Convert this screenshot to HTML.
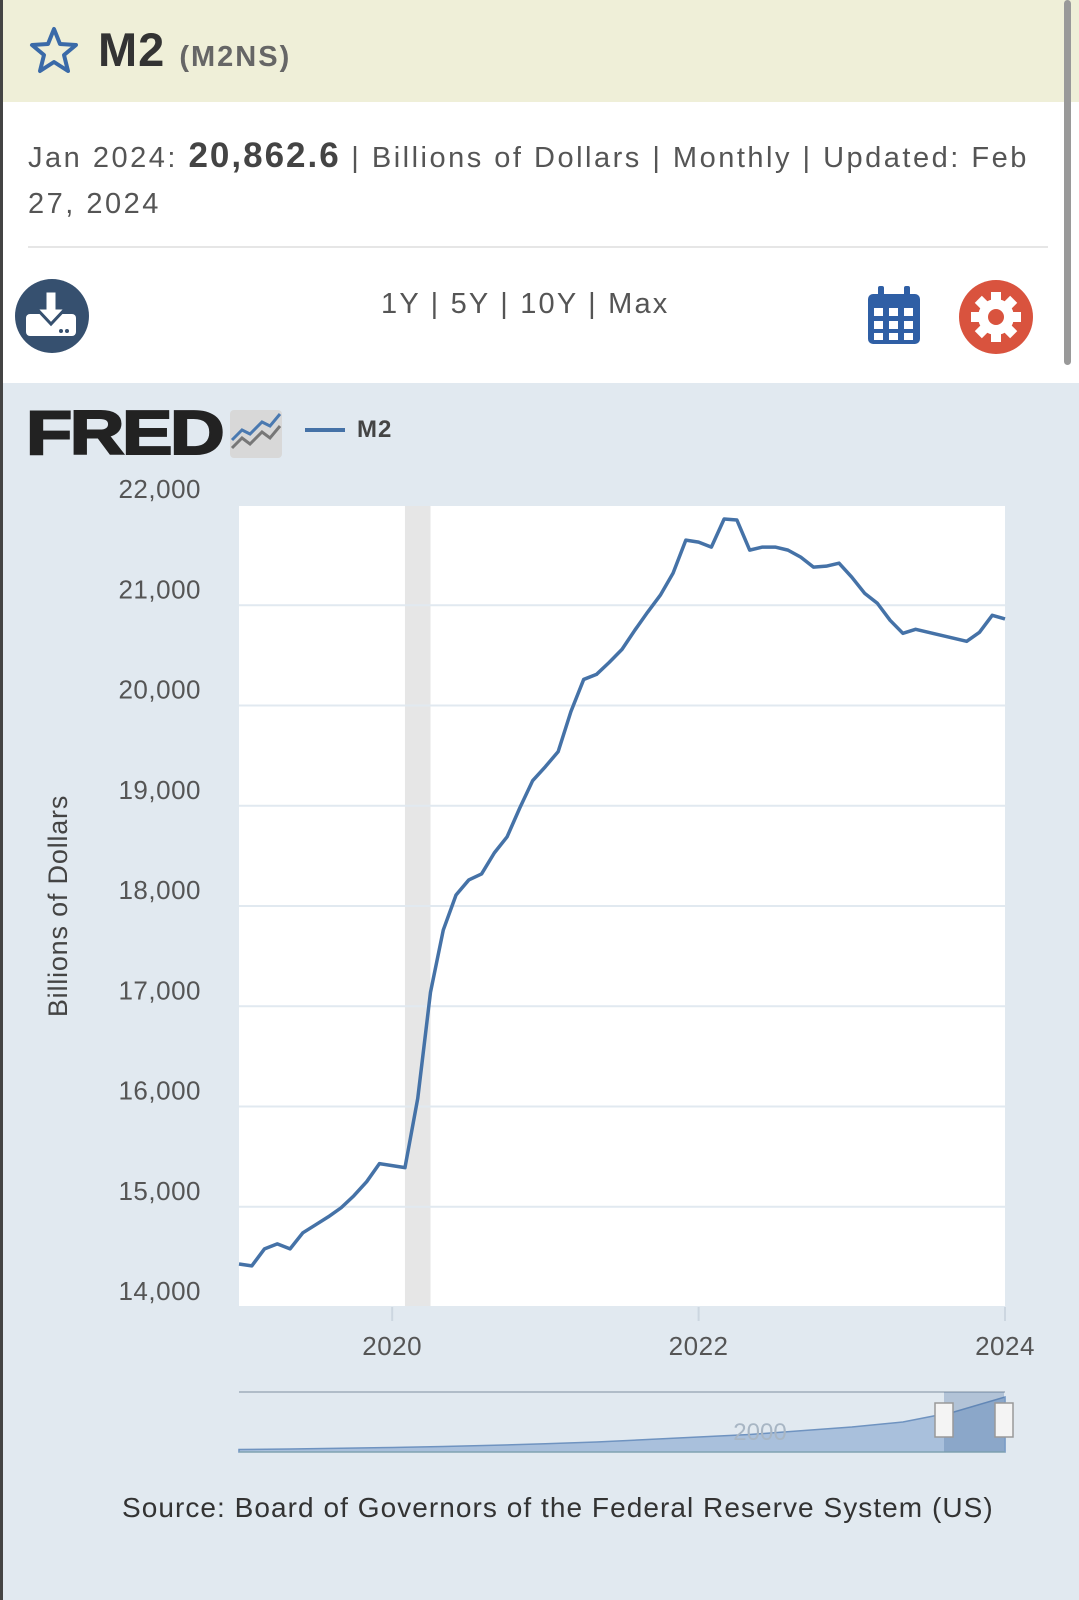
<!DOCTYPE html>
<html><head><meta charset="utf-8"><style>
html,body{margin:0;padding:0;width:1079px;height:1600px;overflow:hidden;background:#fff;font-family:"Liberation Sans",sans-serif}
#hdr{position:absolute;left:0;top:0;width:1079px;height:102px;background:#efefd8}
#lb{position:absolute;left:0;top:0;width:3px;height:1600px;background:#444}
#sb{position:absolute;left:1064px;top:0;width:7px;height:365px;background:#999;border-radius:4px}
.t{position:absolute;white-space:nowrap}
#chartbg{position:absolute;left:0;top:383px;width:1079px;height:1217px;background:#e1e9f0}
</style></head><body>
<div id="hdr"></div>
<div id="chartbg"></div>
<svg class="t" style="left:28px;top:26px" width="52" height="48" viewBox="0 0 52 48"><polygon points="26,3 32,18 48,19 36,29 40,45 26,36 12,45 16,29 4,19 20,18" fill="none" stroke="#3a6aa8" stroke-width="4" stroke-linejoin="round"/></svg>
<div class="t" style="left:98px;top:22px;font-size:47px;font-weight:bold;color:#333;letter-spacing:1px">M2 <span style="font-size:29px;color:#666;letter-spacing:2px">(M2NS)</span></div>
<div class="t" style="left:28px;top:133px;font-size:29px;color:#555;letter-spacing:2.5px;line-height:46px">Jan 2024: <b style="font-size:35px;color:#444;letter-spacing:2px">20,862.6</b> | Billions of Dollars | Monthly | Updated: Feb<br>27, 2024</div>
<div class="t" style="left:28px;top:246px;width:1020px;height:2px;background:#e6e6e6"></div>
<svg class="t" style="left:14px;top:278px" width="76" height="76"><circle cx="38" cy="38" r="37" fill="#36506f"/><rect x="12" y="36" width="50" height="22" rx="4" fill="#fff"/><path d="M31 13h12v17h9l-15 16-15-16h9z" fill="#fff" stroke="#36506f" stroke-width="3"/><circle cx="47" cy="53" r="2" fill="#36506f"/><circle cx="53" cy="53" r="2" fill="#36506f"/></svg>
<div class="t" style="left:381px;top:288px;font-size:29px;color:#555;letter-spacing:2.2px">1Y | 5Y | 10Y | Max</div>
<svg class="t" style="left:866px;top:286px" width="56" height="60"><rect x="2" y="8" width="52" height="50" rx="5" fill="#2f5fa5"/><rect x="12" y="0" width="6" height="14" rx="2" fill="#2f5fa5"/><rect x="38" y="0" width="6" height="14" rx="2" fill="#2f5fa5"/><g fill="#fff"><rect x="8" y="22" width="9" height="8"/><rect x="23" y="22" width="9" height="8"/><rect x="38" y="22" width="9" height="8"/><rect x="8" y="35" width="9" height="8"/><rect x="23" y="35" width="9" height="8"/><rect x="38" y="35" width="9" height="8"/><rect x="8" y="47" width="9" height="7"/><rect x="23" y="47" width="9" height="7"/><rect x="38" y="47" width="9" height="7"/></g></svg>
<svg class="t" style="left:958px;top:279px" width="76" height="76"><circle cx="38" cy="38" r="37" fill="#d9533e"/><g fill="#fff" transform="translate(38 38)"><circle r="18"/><rect x="-5" y="-25" width="10" height="50"/><rect x="-5" y="-25" width="10" height="50" transform="rotate(45)"/><rect x="-5" y="-25" width="10" height="50" transform="rotate(90)"/><rect x="-5" y="-25" width="10" height="50" transform="rotate(135)"/><circle r="8" fill="#d9533e"/></g></svg>
<div class="t" style="left:26px;top:398px;font-size:62px;font-weight:900;color:#222;letter-spacing:-2px;transform:scaleX(1.22);transform-origin:left;-webkit-text-stroke:2px #222">FRED</div>
<svg class="t" style="left:230px;top:410px" width="52" height="48"><rect width="52" height="48" rx="4" fill="#d8d8d8"/><polyline points="2,38 12,28 20,34 32,22 40,28 50,16" fill="none" stroke="#777" stroke-width="3"/><polyline points="2,30 12,20 20,24 32,12 40,16 50,4" fill="none" stroke="#4a79b0" stroke-width="3"/></svg>
<div class="t" style="left:305px;top:428px;width:40px;height:4px;background:#4572a7"></div>
<div class="t" style="left:357px;top:416px;font-size:24px;font-weight:bold;color:#444;letter-spacing:1px">M2</div>
<svg id="chart" class="t" style="left:0;top:0" width="1079" height="1600"></svg>
<div class="t" style="left:122px;top:1492px;font-size:28px;color:#333;letter-spacing:1.05px">Source: Board of Governors of the Federal Reserve System (US)</div>
<div id="lb"></div>
<div id="sb"></div>
<script>
const values=[14429,14410,14580,14630,14580,14740,14820,14900,14990,15110,15250,15430,15410,15390,16080,17140,17760,18110,18260,18320,18530,18690,18980,19250,19390,19540,19940,20260,20310,20430,20560,20750,20930,21100,21320,21650,21630,21580,21860,21850,21550,21580,21580,21550,21480,21380,21390,21420,21280,21120,21020,20850,20720,20760,20730,20700,20670,20640,20730,20900,20863];
const yTicks=[14000,15000,16000,17000,18000,19000,20000,21000,22000];
const xTicks=[2020,2022,2024];
const xTickLabels=["2020","2022","2024"];
const recession=[2020+1/12,2020+3/12];
const startYear=2019;
const navValues=[1,1.2,1.5,1.8,2.2,2.7,3.3,4,5,6,7,8.5,10,12,16,22];
const NS="http://www.w3.org/2000/svg";
const svg=document.getElementById('chart');
const L=239,R=1005,T=505,B=1307;
const xs=t=>L+(t-startYear)/(2024-startYear)*(R-L);
const ys=v=>B-(v-14000)/(22000-14000)*(B-T);
function mk(tag,a){const e=document.createElementNS(NS,tag);for(const k in a)e.setAttribute(k,a[k]);svg.appendChild(e);return e;}
let e=mk('rect',{x:L,y:T,width:R-L,height:B-T,fill:'#fff'});


e=mk('rect',{x:xs(recession[0]),y:T,width:xs(recession[1])-xs(recession[0]),height:B-T,fill:'#e6e6e6'});


yTicks.forEach(v=>{
 e=mk('line',{x1:L,x2:R,y1:ys(v),y2:ys(v),stroke:'#e1e9f0','stroke-width':2});
 
 
 e=mk('text',{x:201,y:ys(v)-7,'text-anchor':'end','font-size':26,fill:'#555','letter-spacing':'0.5','font-family':'Liberation Sans, sans-serif'});
 e.textContent=v.toLocaleString('en-US');
 
 
});
xTicks.forEach((t,i)=>{
 e=mk('line',{x1:xs(t),x2:xs(t),y1:B,y2:B+14,stroke:'#ccd6e0','stroke-width':2});
 
 
 e=mk('text',{x:xs(t),y:1355,'text-anchor':'middle','font-size':26,fill:'#555','letter-spacing':'0.5','font-family':'Liberation Sans, sans-serif'});
 e.textContent=xTickLabels[i];
 
 
});
e=mk('text',{x:0,y:0,transform:'translate(67 906) rotate(-90)','text-anchor':'middle','font-size':27,fill:'#444','letter-spacing':'0.8','font-family':'Liberation Sans, sans-serif'});
e.textContent='Billions of Dollars';


e=mk('polyline',{points:values.map((v,i)=>xs(startYear+i/12)+','+ys(v)).join(' '),fill:'none',stroke:'#4572a7','stroke-width':3.5,'stroke-linejoin':'round'});


const nT=1392,nB=1452,nmax=24;
const nx=i=>L+i/(navValues.length-1)*(R-L);
const ny=v=>nB-v/nmax*(nB-nT);
e=mk('line',{x1:L,x2:R,y1:nT,y2:nT,stroke:'#b0bcc8','stroke-width':2});


e=mk('polygon',{points:L+','+nB+' '+navValues.map((v,i)=>nx(i)+','+ny(v)).join(' ')+' '+R+','+nB,fill:'#a9c0dc',stroke:'#6f93c0','stroke-width':1.5});


e=mk('rect',{x:944,y:nT,width:60,height:nB-nT,fill:'rgba(70,110,160,0.3)'});


e=mk('text',{x:760,y:1440,'text-anchor':'middle','font-size':24,fill:'#a8b6c4','font-family':'Liberation Sans, sans-serif'});
e.textContent='2000';


[944,1004].forEach(x=>{
 e=mk('rect',{x:x-9,y:1403,width:18,height:34,fill:'#f4f4f4',stroke:'#999','stroke-width':1.5});
 
 
});
e=mk('line',{x1:L,x2:R,y1:nB,y2:nB,stroke:'#8aa',"stroke-width":1});


</script>
</body></html>
